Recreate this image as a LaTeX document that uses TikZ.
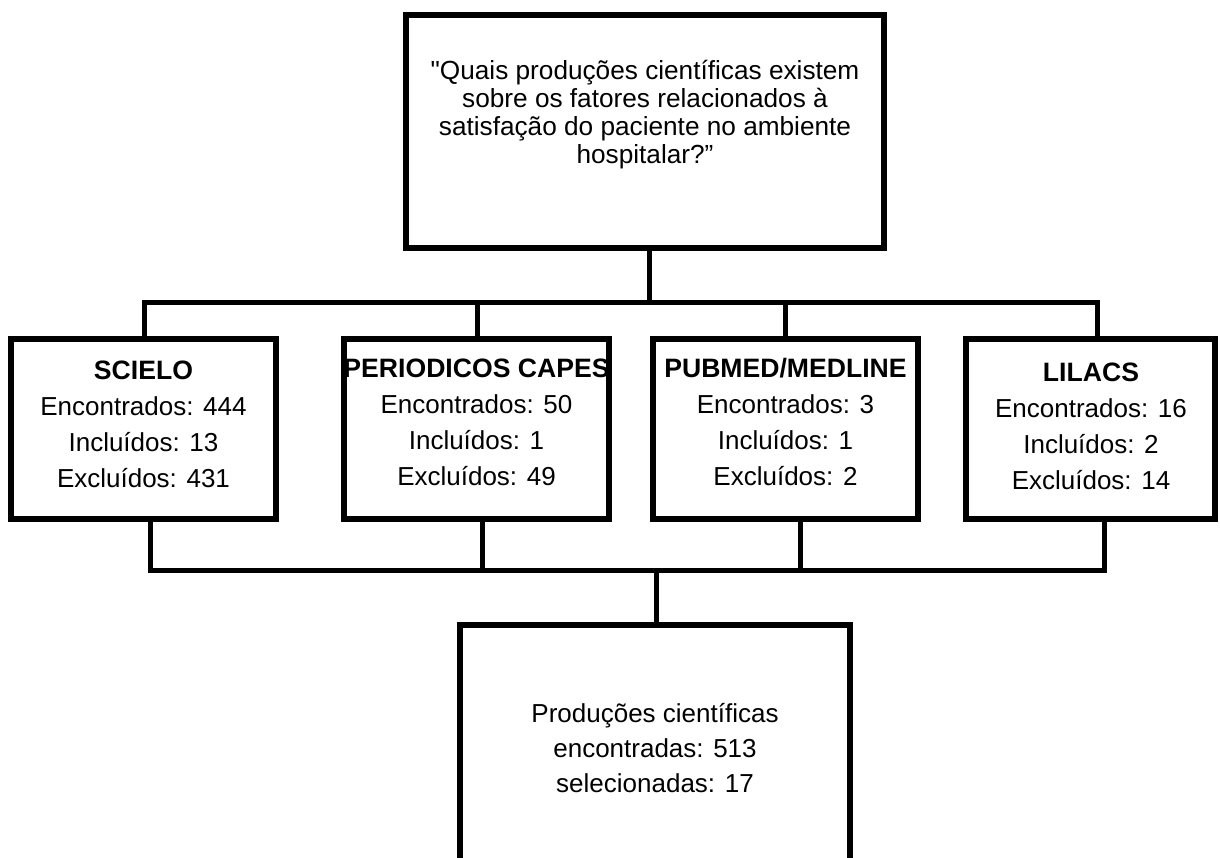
\documentclass[tikz,border=0pt]{standalone}
\usepackage{fontspec}
\setmainfont{Liberation Sans}
\newfontfamily\qfont{Liberation Sans}
\newcommand\ttlfont{\fontsize{13.3}{18}\selectfont\bfseries}
\begin{document}
\begin{tikzpicture}[x=0.5pt,y=-0.5pt,
  box/.style={draw, line width=3.2pt, fill=white, inner sep=0pt},
  conn/.style={line width=2.5pt},
  txt/.style={align=center, inner sep=0pt, font=\fontsize{13}{18}\selectfont}]
\useasboundingbox (0,0) rectangle (1220,857);
\clip (0,0) rectangle (1220,857);
% connector junctions
\coordinate (tj) at (649,302.5);
\coordinate (ua) at (144,302.5);
\coordinate (ub) at (477,302.5);
\coordinate (uc) at (785,302.5);
\coordinate (ud) at (1097.5,302.5);
\coordinate (la) at (150,570);
\coordinate (lb) at (482,570);
\coordinate (lc) at (800,570);
\coordinate (ld) at (1104,570);
\coordinate (lm) at (656,570);
% boxes
\node[box, minimum width=239pt, minimum height=116.5pt] (top) at (645,131.5) {};
\node[box, minimum width=132.5pt, minimum height=90pt] (scielo) at (143.5,429) {};
\node[box, minimum width=132.5pt, minimum height=90pt] (periodicos) at (476.5,429) {};
\node[box, minimum width=132.5pt, minimum height=90pt] (pubmed) at (785.5,429) {};
\node[box, minimum width=124.5pt, minimum height=90pt] (lilacs) at (1090.5,429) {};
\node[box, minimum width=195pt, minimum height=137.5pt] (final) at (655,762.5) {};
% connectors
\draw[conn] (top.south -| tj) -- (tj);
\draw[conn] (ua |- scielo.north) -- (ua) -- (ud) -- (ud |- lilacs.north);
\draw[conn] (ub) -- (ub |- periodicos.north);
\draw[conn] (uc) -- (uc |- pubmed.north);
\draw[conn] (la |- scielo.south) -- (la) -- (ld) -- (ld |- lilacs.south);
\draw[conn] (lb |- periodicos.south) -- (lb);
\draw[conn] (lc |- pubmed.south) -- (lc);
\draw[conn] (lm) -- (lm |- final.north);
% texts
\node[txt, font=\qfont\fontsize{13.1}{14}\selectfont] (ttop) at (645,115)
  {"Quais produções científicas existem\\sobre os fatores relacionados à\\satisfação do paciente no ambiente\\hospitalar?”};
\node[txt] (tscielo) at (143.5,424)
  {{\ttlfont SCIELO}\\Encontrados: 444\\Incluídos: 13\\Excluídos: 431};
\node[txt] (tperiodicos) at (476.5,422)
  {{\ttlfont PERIODICOS CAPES}\\Encontrados: 50\\Incluídos: 1\\Excluídos: 49};
\node[txt] (tpubmed) at (785.5,421.5)
  {{\ttlfont PUBMED/MEDLINE}\\Encontrados: 3\\Incluídos: 1\\Excluídos: 2};
\node[txt] (tlilacs) at (1091,426)
  {{\ttlfont LILACS}\\Encontrados: 16\\Incluídos: 2\\Excluídos: 14};
\node[txt, font=\fontsize{13}{17.5}\selectfont] (tfinal) at (655,748)
  {Produções científicas\\encontradas: 513\\selecionadas: 17};
\end{tikzpicture}
\end{document}
